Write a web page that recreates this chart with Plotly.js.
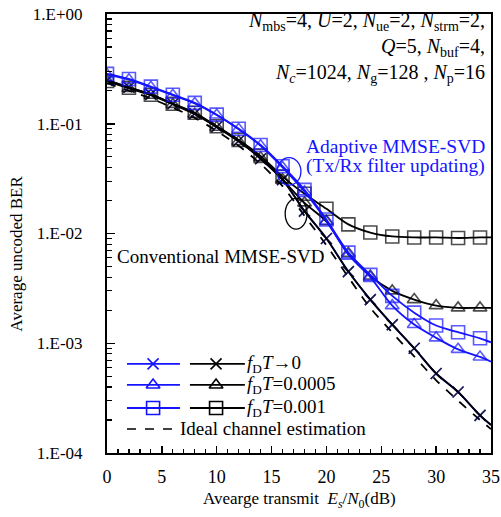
<!DOCTYPE html>
<html>
<head>
<meta charset="utf-8">
<script src="https://cdn.plot.ly/plotly-3.0.1.min.js"></script>
<style>html,body{margin:0;padding:0;background:#fff;}#chart{width:501px;height:517px;}</style>
</head>
<body>
<div id="chart"></div>
<script>
// ---- data ----
const snr = [0,2,4,6,8,10,12,14,16,18,20,22,24,26,28,30,32,34,35];
const idealBer   = [0.235,0.200,0.170,0.140,0.113,0.086,0.063,0.043,0.027,0.0145,0.0078,0.0040,0.0021,0.00125,0.00076,0.00046,0.00030,0.00020,0.000165];
const convX      = [0.250,0.215,0.185,0.152,0.124,0.094,0.070,0.048,0.031,0.016,0.0090,0.0045,0.0025,0.00148,0.00090,0.00053,0.00036,0.00022,0.00018];
const convTri    = [0.245,0.210,0.182,0.150,0.122,0.093,0.069,0.049,0.031,0.019,0.0128,0.0066,0.0041,0.0030,0.0025,0.0022,0.0021,0.0021,0.0021];
const convSq     = [0.245,0.213,0.184,0.152,0.126,0.095,0.071,0.051,0.033,0.023,0.0168,0.0121,0.0102,0.0094,0.0092,0.0092,0.0091,0.0092,0.0092];
const adaptX     = [0.250,0.215,0.185,0.152,0.124,0.094,0.070,0.048,0.031,0.016,0.0090,0.0045,0.0025,0.00148,0.00090,0.00053,0.00036,0.00022,0.00018];
const adaptTri   = [0.280,0.252,0.215,0.182,0.153,0.120,0.089,0.063,0.040,0.024,0.0130,0.0064,0.0040,0.0022,0.00148,0.00112,0.00088,0.00075,0.00068];
const adaptSq    = [0.285,0.256,0.218,0.184,0.155,0.121,0.090,0.064,0.041,0.025,0.0134,0.0067,0.0042,0.0027,0.0019,0.00145,0.00126,0.00111,0.00102];
const yTickVals  = [1,0.1,0.01,0.001,0.0001];
const yTickText  = ['1.E+00','1.E-01','1.E-02','1.E-03','1.E-04'];
const legendLabels = ['<i>f</i><sub>D</sub><i>T</i>\u21920','<i>f</i><sub>D</sub><i>T</i>=0.0005','<i>f</i><sub>D</sub><i>T</i>=0.001','Ideal channel estimation'];

// ---- styles ----
const BLUE = '#1414ff', BLACK = '#000000';
const FONT = 'Liberation Serif, Times New Roman, serif';
// markers every point except the last (line end at 35 dB)
const msize = (s) => snr.map((v,i) => i === snr.length-1 ? 0 : s);

function series(y, color, symbol, size, dash) {
  const t = {
    x: snr, y: y, type: 'scatter',
    mode: symbol ? 'lines+markers' : 'lines',
    line: {color: color, width: 1.8, shape: 'spline', smoothing: 0.8, dash: dash || 'solid'},
    xaxis: 'x', yaxis: 'y', showlegend: false, hoverinfo: 'skip'
  };
  if (symbol) t.marker = {symbol: symbol, size: msize(size), color: color, line: {color: color, width: 1.6}};
  return t;
}

const traces = [
  series(idealBer, BLACK, null, 0, 'dash'),
  series(adaptX, BLUE, 'x-thin-open', 11),
  series(convX, BLACK, 'x-thin-open', 11),
  series(convTri, BLACK, 'triangle-up-open', 12),
  series(convSq, BLACK, 'square-open', 13),
  series(adaptTri, BLUE, 'triangle-up-open', 12),
  series(adaptSq, BLUE, 'square-open', 13)
];

// ---- custom legend drawn on a hidden overlay axis (0..1 in both) ----
const legRows = [0.203, 0.155, 0.1025];
const legSyms = ['x-thin-open','triangle-up-open','square-open'];
const legSz = [11,12,13];
legRows.forEach((ry, i) => {
  [[0.052,0.12,0.19,BLUE],[0.216,0.284,0.359,BLACK]].forEach(([a,m,b,c]) => {
    traces.push({x:[a,b], y:[ry,ry], xaxis:'x2', yaxis:'y2', mode:'lines', line:{color:c,width:1.8}, showlegend:false, hoverinfo:'skip'});
    traces.push({x:[m], y:[ry], xaxis:'x2', yaxis:'y2', mode:'markers', marker:{symbol:legSyms[i], size:legSz[i], color:c, line:{color:c,width:1.6}}, showlegend:false, hoverinfo:'skip'});
  });
});
traces.push({x:[0.052,0.185], y:[0.0547,0.0547], xaxis:'x2', yaxis:'y2', mode:'lines', line:{color:BLACK,width:1.6,dash:'dash'}, showlegend:false, hoverinfo:'skip'});

// minor ticks for the log axis
const yMinor = [];
for (let d = -4; d < 0; d++) for (let k = 2; k <= 9; k++) yMinor.push(k * Math.pow(10, d));

const annFont = (c, s) => ({family: FONT, size: s || 20, color: c});
const annotations = [
  {xref:'paper', yref:'paper', x:0.359, y:legRows[0], xanchor:'left', yanchor:'middle', text:legendLabels[0], showarrow:false, font:annFont(BLACK,19)},
  {xref:'paper', yref:'paper', x:0.359, y:legRows[1], xanchor:'left', yanchor:'middle', text:legendLabels[1], showarrow:false, font:annFont(BLACK,19)},
  {xref:'paper', yref:'paper', x:0.359, y:legRows[2], xanchor:'left', yanchor:'middle', text:legendLabels[2], showarrow:false, font:annFont(BLACK,19)},
  {xref:'paper', yref:'paper', x:0.185, y:0.0547, xanchor:'left', yanchor:'middle', text:legendLabels[3], showarrow:false, font:annFont(BLACK,19)},
  {xref:'paper', yref:'paper', x:0.99, y:1.016, xanchor:'right', yanchor:'top', align:'right', showarrow:false, font:annFont(BLACK),
   text:'<i>N</i><sub>mbs</sub>=4, <i>U</i>=2, <i>N</i><sub>ue</sub>=2, <i>N</i><sub>strm</sub>=2,<br><i>Q</i>=5, <i>N</i><sub>buf</sub>=4,<br><i>N<sub>c</sub></i>=1024, <i>N</i><sub>g</sub>=128 , <i>N</i><sub>p</sub>=16'},
  {xref:'paper', yref:'paper', x:0.99, y:(453-146)/439, xanchor:'right', yanchor:'middle', showarrow:false, font:annFont(BLUE,19.5),
   text:'Adaptive MMSE-SVD'},
  {xref:'paper', yref:'paper', x:0.99, y:(453-166)/439, xanchor:'right', yanchor:'middle', showarrow:false, font:annFont(BLUE,19.5),
   text:'(Tx/Rx filter updating)'},
  {xref:'paper', yref:'paper', x:0.02, y:(453-256)/439, xanchor:'left', yanchor:'middle', showarrow:false, font:annFont(BLACK,19),
   text:'Conventional MMSE-SVD'},
  {xref:'paper', yref:'paper', x:-0.236, y:0.455, xanchor:'center', yanchor:'middle', textangle:-90, showarrow:false, font:annFont(BLACK,17),
   text:'Average uncoded BER'},
  {xref:'paper', yref:'paper', x:0.5, y:-(500-453)/439, xanchor:'center', yanchor:'middle', showarrow:false, font:annFont(BLACK,17),
   text:'Avearge transmit  <i>E<sub>s</sub></i>/<i>N</i><sub>0</sub>(dB)'}
];

const shapes = [
  {type:'circle', xref:'paper', yref:'paper', x0:0.443, x1:0.505, y0:0.61, y1:0.673, line:{color:BLUE,width:1.3}},
  {type:'circle', xref:'paper', yref:'paper', x0:0.464, x1:0.521, y0:0.51, y1:0.58, line:{color:BLACK,width:1.3}}
];

const layout = {
  width: 501, height: 517,
  margin: {l:107, r:10, t:14, b:64},
  paper_bgcolor:'#fff', plot_bgcolor:'#fff',
  showlegend: false,
  font: {family: FONT, size: 18, color: BLACK},
  xaxis: {
    range:[0,35], tickmode:'linear', tick0:0, dtick:5, ticks:'inside', ticklen:7, tickwidth:1.5, tickcolor:BLACK,
    minor:{ticks:'inside', dtick:1, ticklen:4, tickwidth:1.2, tickcolor:BLACK, showgrid:false},
    showline:true, linecolor:BLACK, linewidth:2, mirror:true, showgrid:false, zeroline:false,
    tickfont:{family:FONT, size:18}, ticklabelstandoff:6
  },
  yaxis: {
    type:'log', range:[-4,0], tickmode:'array', tickvals:yTickVals, ticktext:yTickText,
    ticks:'inside', ticklen:8, tickwidth:1.5, tickcolor:BLACK,
    minor:{tickmode:'array', tickvals:yMinor, ticks:'inside', ticklen:5, tickwidth:1.2, tickcolor:BLACK, showgrid:false},
    showline:true, linecolor:BLACK, linewidth:2, mirror:true, showgrid:false, zeroline:false,
    tickfont:{family:FONT, size:17}, ticklabelstandoff:19
  },
  xaxis2: {domain:[0,1], range:[0,1], overlaying:'x', anchor:'y2', visible:false, fixedrange:true},
  yaxis2: {domain:[0,1], range:[0,1], overlaying:'y', anchor:'x2', visible:false, fixedrange:true},
  annotations: annotations,
  shapes: shapes
};

Plotly.newPlot('chart', traces, layout, {staticPlot:true, displayModeBar:false});
</script>
</body>
</html>
